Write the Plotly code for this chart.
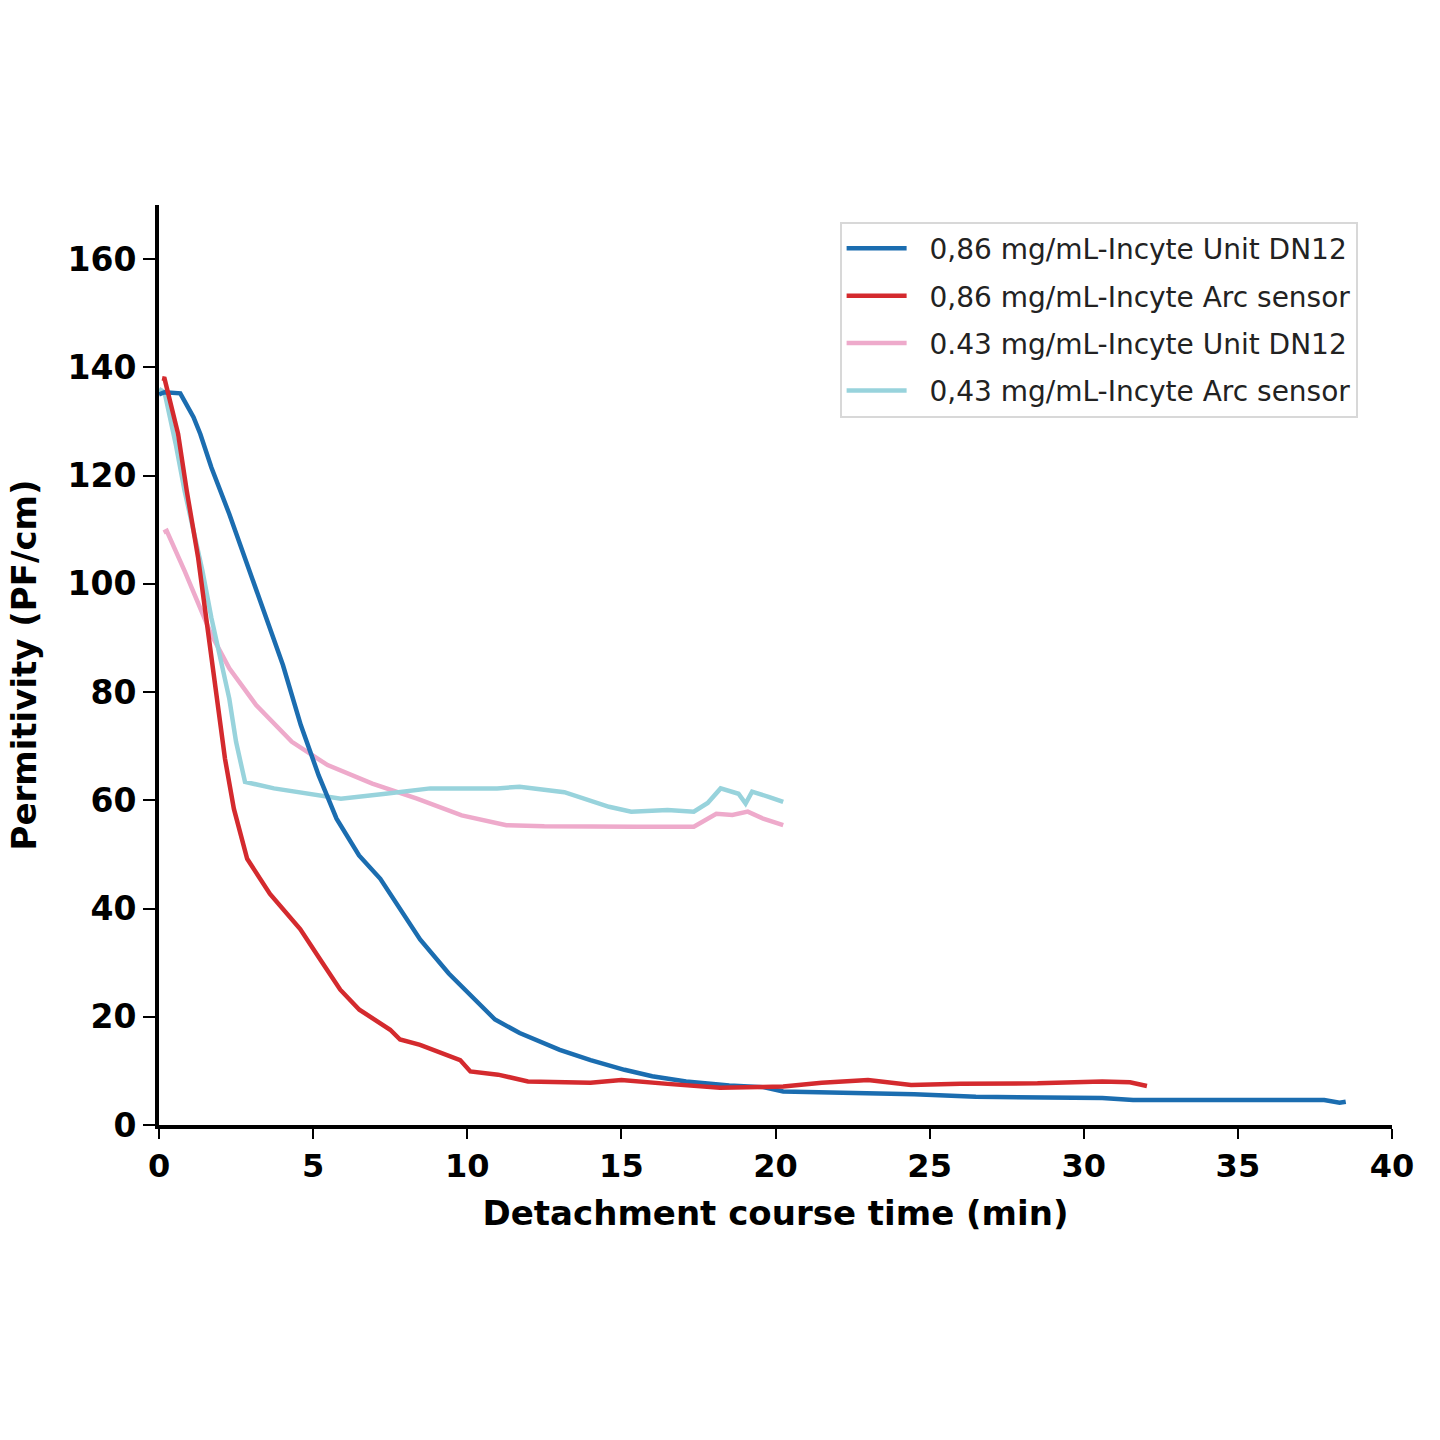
import plotly.graph_objects as go

# 0,86 mg/mL-Incyte Unit DN12 (blue)
blue_x = [0.0, 0.18, 0.69, 1.12, 1.34, 1.70, 2.28, 2.86, 3.44, 4.02, 4.60, 5.18, 5.76, 6.49, 7.18, 8.47,
          9.4, 10.1, 10.9, 11.7, 13.0, 14.0, 15.1, 16.0, 17.1, 18.5, 19.6, 20.25, 22.3, 24.5, 26.5, 28.5,
          30.6, 31.6, 34.0, 36.0, 37.8, 38.3, 38.5]
blue_y = [135.0, 135.4, 135.2, 130.8, 127.7, 121.5, 112.9, 103.6, 94.9, 85.0, 73.9, 64.6, 56.6, 49.8, 45.5, 34.3,
          28.0, 24.0, 19.5, 17.0, 13.9, 12.0, 10.2, 9.0, 8.05, 7.3, 7.0, 6.2, 5.9, 5.7, 5.2, 5.2,
          5.0, 4.6, 4.6, 4.6, 4.6, 4.1, 4.3]

# 0,86 mg/mL-Incyte Arc sensor (red)
red_x = [0.1, 0.18, 0.62, 0.90, 1.27, 1.56, 1.85, 2.14, 2.43, 2.86, 3.6, 4.58, 5.23, 5.88, 6.5, 7.5, 7.82,
         8.47, 9.77, 10.1, 11.0, 11.97, 14.0, 15.0, 16.5, 18.2, 19.5, 20.25, 21.5, 22.3, 23.0, 24.4, 26.0,
         28.5, 30.6, 31.5, 32.05]
red_y = [138.0, 137.9, 127.7, 117.2, 104.8, 92.5, 80.1, 67.7, 58.4, 49.2, 42.7, 36.2, 30.6, 25.0, 21.3, 17.6, 15.8,
         14.8, 12.0, 9.9, 9.3, 8.05, 7.8, 8.3, 7.6, 6.9, 7.0, 7.1, 7.8, 8.05, 8.3, 7.4, 7.6,
         7.7, 8.05, 7.9, 7.2]

# 0.43 mg/mL-Incyte Unit DN12 (pink)
pink_x = [0.15, 0.25, 0.83, 1.27, 1.70, 2.28, 3.15, 4.31, 5.47, 6.92, 8.37, 9.82, 11.27, 12.5, 13.9, 15.5,
          17.35, 18.08, 18.6, 19.1, 19.6, 20.25]
pink_y = [109.5, 109.8, 102.4, 96.2, 90.6, 84.4, 77.6, 70.8, 66.5, 63.1, 60.3, 57.2, 55.4, 55.2, 55.1, 55.1,
          55.1, 57.5, 57.3, 57.9, 56.6, 55.4]

# 0,43 mg/mL-Incyte Arc sensor (cyan)
cyan_x = [0.0, 0.18, 0.54, 0.83, 1.12, 1.41, 1.70, 1.99, 2.28, 2.50, 2.79, 3.73, 5.18, 5.9, 7.35, 8.8,
          10.97, 11.7, 13.15, 14.6, 15.32, 16.5, 17.35, 17.8, 18.22, 18.8, 19.03, 19.24, 19.8, 20.25]
cyan_y = [136.0, 135.4, 125.9, 117.2, 109.8, 102.4, 93.7, 86.3, 78.8, 70.8, 63.4, 62.2, 60.9, 60.3, 61.2, 62.2,
          62.2, 62.5, 61.5, 58.8, 57.9, 58.2, 57.9, 59.5, 62.2, 61.2, 59.4, 61.6, 60.6, 59.7]

names = ["0,86 mg/mL-Incyte Unit DN12", "0,86 mg/mL-Incyte Arc sensor",
         "0.43 mg/mL-Incyte Unit DN12", "0,43 mg/mL-Incyte Arc sensor"]
colors = ["#1b6db0", "#d42a2e", "#eeaacb", "#98d3dc"]
series = [(blue_x, blue_y), (red_x, red_y), (pink_x, pink_y), (cyan_x, cyan_y)]

x_ticks = [0, 5, 10, 15, 20, 25, 30, 35, 40]
y_ticks = [0, 20, 40, 60, 80, 100, 120, 140, 160]

fig = go.Figure()
# draw order: pink, cyan under; blue, red on top
order = [2, 3, 0, 1]
for i in order:
    xs, ys = series[i]
    fig.add_trace(go.Scatter(x=xs, y=ys, mode="lines", name="\u00a0\u00a0" + names[i],
                             line=dict(color=colors[i], width=4.5), legendrank=i + 1,
                             legendgroup=str(i)))

font_family = "DejaVu Sans"
fig.update_layout(
    width=1440, height=1440,
    margin=dict(l=159, r=48, t=205, b=315),
    paper_bgcolor="white", plot_bgcolor="white",
    font=dict(family=font_family, color="black"),
    showlegend=True,
    legend=dict(x=0.552, y=0.982, xanchor="left", yanchor="top",
                font=dict(size=28, color="#222222", family=font_family),
                bordercolor="#d8d8d8", borderwidth=2, bgcolor="white",
                itemwidth=60, tracegroupgap=8, traceorder="grouped"),
    xaxis=dict(range=[0, 40], tickvals=x_ticks, ticktext=[str(v) for v in x_ticks],
               showgrid=False, zeroline=False, showline=True, linecolor="black", linewidth=4,
               ticks="outside", ticklen=10, tickwidth=2, tickcolor="black",
               tickfont=dict(size=32, family=font_family, weight="bold"),
               title=dict(text="<b>Detachment course time (min)</b>", font=dict(size=34), standoff=18)),
    yaxis=dict(range=[0, 170], tickvals=y_ticks, ticktext=[str(v) for v in y_ticks],
               showgrid=False, zeroline=False, showline=True, linecolor="black", linewidth=4,
               ticks="outside", ticklen=12, tickwidth=2, tickcolor="black",
               tickfont=dict(size=33, family=font_family, weight="bold"),
               title=dict(text="<b>Permitivity (PF/cm)</b>", font=dict(size=34), standoff=22)),
)

fig.write_html("out.html")
